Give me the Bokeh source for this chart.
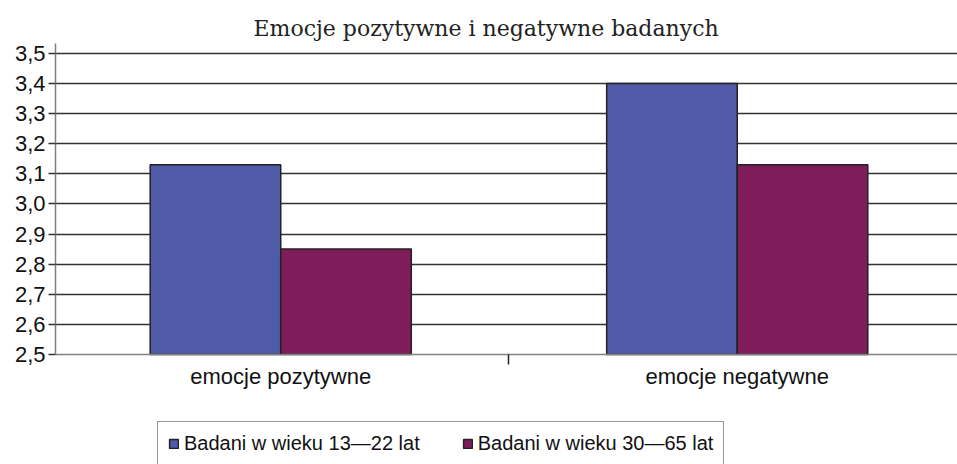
import numpy as np
from bokeh.plotting import figure
from bokeh.models import (Range1d, FixedTicker, Legend, LegendItem, ColumnDataSource)
from bokeh.embed import file_html
from bokeh.resources import INLINE

# ---- data ----
title_text = "Emocje pozytywne i negatywne badanych"
categories = ["emocje pozytywne", "emocje negatywne"]
series_names = ["Badani w wieku 13\u201422 lat", "Badani w wieku 30\u201465 lat"]
young = [3.13, 3.40]
older = [2.85, 3.13]
y_ticks = [2.5, 2.6, 2.7, 2.8, 2.9, 3.0, 3.1, 3.2, 3.3, 3.4, 3.5]
y_tick_labels = ["2,5", "2,6", "2,7", "2,8", "2,9", "3,0", "3,1", "3,2", "3,3", "3,4", "3,5"]
y_base = 2.5

# ---- style ----
BLUE = "#4F5BA7"
MAROON = "#7F1C5A"
FONT = "Liberation Sans"
BAR_W = 0.286

centers = np.arange(len(categories)) + 0.5

p = figure(width=957, height=464, output_backend="svg", toolbar_location=None,
           x_range=Range1d(0.0066, 1.9825), y_range=Range1d(2.1343, 3.533),
           min_border_left=55, min_border_right=0, min_border_top=43, min_border_bottom=0)
p.outline_line_color = None
p.background_fill_color = "white"
p.border_fill_color = "white"

src = ColumnDataSource(dict(x1=centers - BAR_W / 2, x2=centers + BAR_W / 2,
                            young=young, older=older))
r1 = p.vbar(x="x1", top="young", bottom=y_base, width=BAR_W, source=src,
            fill_color=BLUE, line_color="#222222", line_width=1.5)
r2 = p.vbar(x="x2", top="older", bottom=y_base, width=BAR_W, source=src,
            fill_color=MAROON, line_color="#222222", line_width=1.5)

# title
p.title.text = title_text
p.title.text_font = "DejaVu Serif"
p.title.text_font_size = "22px"
p.title.text_font_style = "normal"
p.title.text_color = "#222222"
p.title.align = "left"
p.title.offset = 198
p.title.standoff = 6

# y axis
ya = p.yaxis[0]
ya.ticker = FixedTicker(ticks=y_ticks, minor_ticks=[])
ya.bounds = (y_base, 3.533)
ya.major_label_overrides = {t: l for t, l in zip(y_ticks, y_tick_labels)}
ya.major_label_text_font = FONT
ya.major_label_text_font_size = "22px"
ya.major_label_text_color = "#111111"
ya.major_tick_out = 7
ya.major_tick_in = 0
ya.major_tick_line_color = "#333333"
ya.major_tick_line_width = 1.3
ya.axis_line_color = "#808080"
ya.axis_line_width = 1.5
ya.major_label_standoff = 3

# x axis (fixed at the base value)
xa = p.xaxis[0]
xa.fixed_location = y_base
xa.ticker = FixedTicker(ticks=list(centers), minor_ticks=list(centers[:-1] + 0.5))
xa.major_label_overrides = {float(c): cat for c, cat in zip(centers, categories)}
xa.major_label_text_font = FONT
xa.major_label_text_font_size = "22px"
xa.major_label_text_color = "#111111"
xa.major_tick_out = 0
xa.major_tick_in = 0
xa.minor_tick_out = 10
xa.minor_tick_in = 0
xa.minor_tick_line_color = "#222222"
xa.minor_tick_line_width = 1.5
xa.axis_line_color = "#808080"
xa.axis_line_width = 1.5
xa.major_label_standoff = 0

# grid
p.xgrid.visible = False
p.ygrid.ticker = FixedTicker(ticks=y_ticks[1:])
p.ygrid.grid_line_color = "#333333"
p.ygrid.grid_line_width = 1.4

legend = Legend(items=[LegendItem(label=series_names[0], renderers=[r1]),
                       LegendItem(label=series_names[1], renderers=[r2])],
                orientation="horizontal", location=(102, -2))
legend.label_text_font = FONT
legend.label_text_font_size = "20px"
legend.label_text_color = "#111111"
legend.glyph_width = 11
legend.glyph_height = 11
legend.label_standoff = 5
legend.spacing = 42
legend.padding = 10
legend.margin = 0
legend.border_line_color = "#333333"
legend.border_line_width = 1.2
legend.background_fill_color = "white"
p.add_layout(legend, "center")

open("out.html", "w").write(file_html(p, INLINE))
